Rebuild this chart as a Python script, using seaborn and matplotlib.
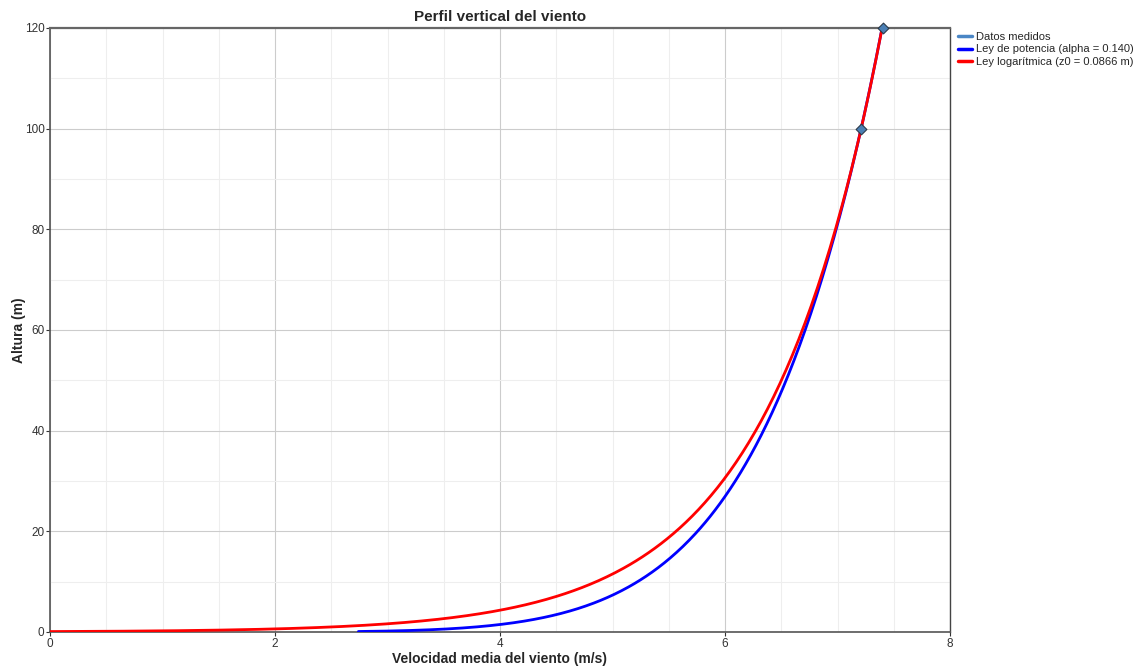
import numpy as np
import pandas as pd
import matplotlib
matplotlib.use("Agg")
import matplotlib.pyplot as plt
from matplotlib.ticker import MultipleLocator
import seaborn as sns

# Measured mean wind speeds at the mast heights
heights_measured = [100, 120]
speeds_measured = [7.21, 7.40]

# Fitted profile parameters
alpha = 0.140       # power-law exponent
z0 = 0.0866         # roughness length (m)
z_ref = heights_measured[0]
v_ref = speeds_measured[0]

x_ticks = [0, 2, 4, 6, 8]
y_ticks = [0, 20, 40, 60, 80, 100, 120]

# Profiles evaluated over heights up to the top measurement
z_pow = np.geomspace(0.1, 120, 400)
v_pow = v_ref * (z_pow / z_ref) ** alpha
z_log = np.geomspace(z0, 120, 400)
v_log = v_ref * np.log(z_log / z0) / np.log(z_ref / z0)

df_meas = pd.DataFrame({"v": speeds_measured, "z": heights_measured})
df_pow = pd.DataFrame({"v": v_pow, "z": z_pow})
df_log = pd.DataFrame({"v": v_log, "z": z_log})

sns.set_theme(style="white")
plt.rcParams["font.family"] = ["Liberation Sans", "DejaVu Sans"]

fig = plt.figure(figsize=(11.42, 6.66), dpi=100)
ax = fig.add_axes([50 / 1142, 34 / 666, 900 / 1142, 604 / 666])

sns.lineplot(data=df_pow, x="v", y="z", ax=ax, color="#0000ff", lw=2,
             sort=False, estimator=None, label="Ley de potencia (alpha = 0.140)", zorder=3)
sns.lineplot(data=df_log, x="v", y="z", ax=ax, color="#ff0000", lw=2,
             sort=False, estimator=None, label="Ley logarítmica (z0 = 0.0866 m)", zorder=4)
sns.scatterplot(data=df_meas, x="v", y="z", ax=ax, marker="D", s=30,
                color="#4a7fb5", edgecolor="#2b3a4a", linewidth=0.8, zorder=5,
                legend=False, clip_on=False)

ax.set_xlim(0, 8)
ax.set_ylim(0, 120)
ax.set_xticks(x_ticks)
ax.set_yticks(y_ticks)
ax.xaxis.set_minor_locator(MultipleLocator(0.5))
ax.yaxis.set_minor_locator(MultipleLocator(10))
ax.grid(which="major", color="#cccccc", lw=0.8)
ax.grid(which="minor", color="#eeeeee", lw=0.8)
ax.set_axisbelow(True)

ax.tick_params(axis="both", which="major", labelsize=8.5, colors="#333333",
               length=3, width=0.8, direction="out", bottom=True, left=True, pad=1)
ax.tick_params(which="minor", length=0)
for lbl in ax.get_xticklabels() + ax.get_yticklabels():
    lbl.set_color("#333333")

for side in ["left", "bottom"]:
    ax.spines[side].set_color("#555555")
    ax.spines[side].set_linewidth(1.2)
for side in ["top", "right"]:
    ax.spines[side].set_color("#444444")
    ax.spines[side].set_linewidth(1.0)
ax.spines["top"].set_linewidth(1.6)
ax.spines["top"].set_color("#666666")

ax.set_xlabel("Velocidad media del viento (m/s)", fontsize=10, fontweight="bold", labelpad=2)
ax.set_ylabel("Altura (m)", fontsize=10, fontweight="bold", labelpad=-1)
ax.set_title("Perfil vertical del viento", fontsize=11, fontweight="bold", pad=5)

# Legend: measured series shown as a line entry, then the two fitted laws
handles, labels = ax.get_legend_handles_labels()
meas_handle = plt.Line2D([], [], color="#4a86c5", lw=2.5)
handles = [meas_handle] + handles
labels = ["Datos medidos"] + labels
leg = ax.legend(handles, labels, loc="upper left", bbox_to_anchor=(1.002, 1.005),
                frameon=False, fontsize=8, handlelength=1.2, handletextpad=0.4,
                labelspacing=0.25, borderaxespad=0.2)
for h in leg.get_lines():
    h.set_linewidth(2.5)

fig.savefig("out.png", dpi=100)
